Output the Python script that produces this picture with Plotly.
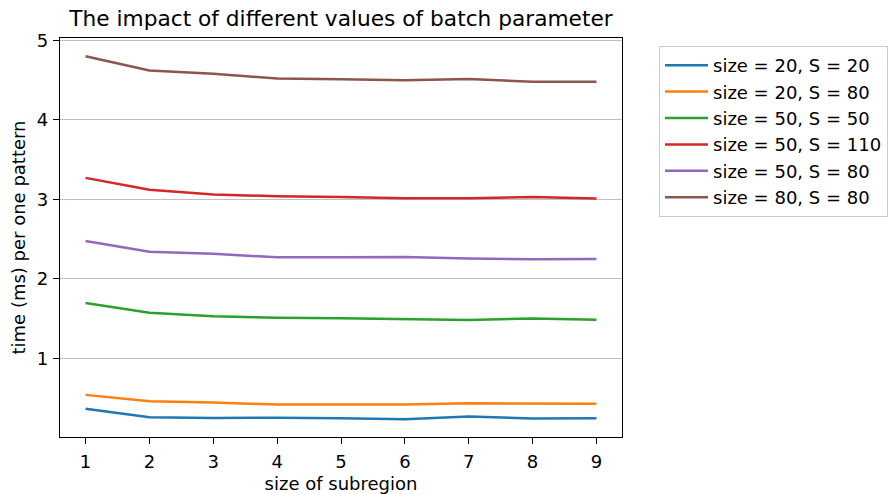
import plotly.graph_objects as go

# Subregion sizes on the x axis
subregion = [1, 2, 3, 4, 5, 6, 7, 8, 9]

# Time per pattern (ms) for each batch configuration
size20_s20 = [0.364, 0.26, 0.25, 0.253, 0.245, 0.234, 0.268, 0.243, 0.245]
size20_s80 = [0.54, 0.46, 0.443, 0.418, 0.418, 0.42, 0.435, 0.43, 0.427]
size50_s50 = [1.696, 1.574, 1.53, 1.51, 1.505, 1.49, 1.482, 1.50, 1.486]
size50_s110 = [3.27, 3.12, 3.06, 3.04, 3.03, 3.015, 3.015, 3.03, 3.01]
size50_s80 = [2.475, 2.34, 2.315, 2.27, 2.27, 2.275, 2.255, 2.245, 2.25]
size80_s80 = [4.80, 4.62, 4.58, 4.52, 4.51, 4.50, 4.515, 4.48, 4.48]

series_names = [
    "size = 20, S = 20",
    "size = 20, S = 80",
    "size = 50, S = 50",
    "size = 50, S = 110",
    "size = 50, S = 80",
    "size = 80, S = 80",
]
series_values = [size20_s20, size20_s80, size50_s50, size50_s110, size50_s80, size80_s80]
colors = ["#1f77b4", "#ff7f0e", "#2ca02c", "#d62728", "#9467bd", "#8c564b"]

FONT = "DejaVu Sans"
FS = 18

fig = go.Figure()
for name, vals, col in zip(series_names, series_values, colors):
    fig.add_trace(go.Scatter(
        x=subregion, y=vals, mode="lines", name=name,
        line=dict(color=col, width=2.5),
    ))

axis_common = dict(
    showline=True, mirror=True, linecolor="black", linewidth=1.3,
    ticks="outside", ticklen=6, tickwidth=1.3, tickcolor="black",
    tickfont=dict(family=FONT, size=FS, color="black"),
    zeroline=False,
)

fig.update_layout(
    width=888, height=494,
    margin=dict(l=60, r=266, t=38, b=57, autoexpand=False),
    paper_bgcolor="white", plot_bgcolor="white",
    font=dict(family=FONT, size=FS, color="black"),
    title=dict(
        text="The impact of different values of batch parameter",
        x=(60 + 562 / 2) / 888, xanchor="center",
        y=1 - 18 / 494, yanchor="middle",
        font=dict(family=FONT, size=21.7, color="black"),
    ),
    xaxis=dict(
        range=[0.6, 9.4], tickvals=subregion, showgrid=False,
        ticklabelstandoff=2,
        title=dict(text="size of subregion", font=dict(family=FONT, size=FS), standoff=9),
        **axis_common,
    ),
    yaxis=dict(
        range=[0.01, 5.03], tickvals=[1, 2, 3, 4, 5],
        showgrid=True, gridcolor="#c0c0c0", gridwidth=1.2,
        ticklabelstandoff=1,
        title=dict(text="time (ms) per one pattern", font=dict(family=FONT, size=FS), standoff=6),
        **axis_common,
    ),
    legend=dict(
        x=(659 - 60) / 562, xanchor="left",
        y=(437 - 46) / 399, yanchor="top",
        bordercolor="#cccccc", borderwidth=1, bgcolor="white",
        font=dict(family=FONT, size=FS, color="black"),
        itemwidth=43,
    ),
    showlegend=True,
)

fig.write_html("out.html")
